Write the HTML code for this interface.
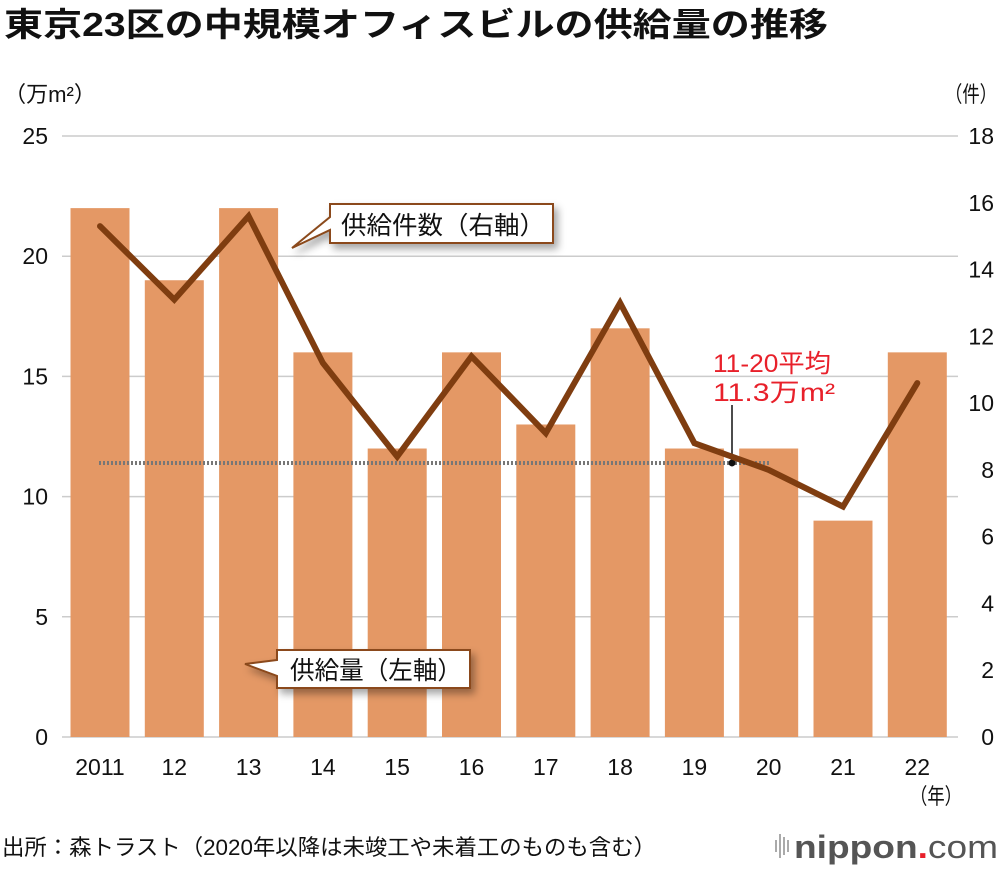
<!DOCTYPE html>
<html><head><meta charset="utf-8">
<style>
html,body{margin:0;padding:0;background:#fff;}
body{width:1000px;height:870px;overflow:hidden;font-family:"Liberation Sans","Noto Sans CJK JP",sans-serif;}
</style></head>
<body>
<svg id="chart" width="1000" height="870" xmlns="http://www.w3.org/2000/svg" font-family="'Liberation Sans','Noto Sans CJK JP',sans-serif">
<defs>
<filter id="sh" x="-20%" y="-30%" width="150%" height="180%"><feDropShadow dx="4" dy="5" stdDeviation="4" flood-color="#000" flood-opacity="0.35"/></filter>
</defs>
<text x="4" y="36" font-size="33" font-weight="bold" fill="#111" textLength="824" lengthAdjust="spacingAndGlyphs">東京23区の中規模オフィスビルの供給量の推移</text>
<text x="4" y="102" font-size="22" fill="#111" textLength="92" lengthAdjust="spacingAndGlyphs">（万m²）</text>
<text x="945" y="102" font-size="22" fill="#111" textLength="52" lengthAdjust="spacingAndGlyphs">（件）</text>
<g id="grid"></g><g id="bars"></g><g id="avg"></g><g id="line"></g><g id="ticks"></g>
<g filter="url(#sh)">
<path d="M330,204 H553 V243 H330 V230 L292,248 L330,217 Z" fill="#fff" stroke="#8b4a1a" stroke-width="2"/>
</g>
<text x="341" y="234" font-size="25" fill="#111" textLength="204" lengthAdjust="spacingAndGlyphs">供給件数（右軸）</text>
<g filter="url(#sh)">
<path d="M277,650 H470 V688 H277 V676 L245,664 L277,660 Z" fill="#fff" stroke="#8b4a1a" stroke-width="2"/>
</g>
<text x="290" y="679" font-size="25" fill="#111" textLength="172" lengthAdjust="spacingAndGlyphs">供給量（左軸）</text>
<text x="713" y="372" font-size="25" fill="#e8202a" textLength="118" lengthAdjust="spacingAndGlyphs">11-20平均</text>
<text x="713" y="401" font-size="25" fill="#e8202a" textLength="122" lengthAdjust="spacingAndGlyphs">11.3万m²</text>
<text x="910" y="804" font-size="22" fill="#111" textLength="52" lengthAdjust="spacingAndGlyphs">（年）</text>
<text x="2" y="855" font-size="22" fill="#111" textLength="654" lengthAdjust="spacingAndGlyphs">出所：森トラスト（2020年以降は未竣工や未着工のものも含む）</text>
<g>
<rect x="775" y="840" width="2" height="12" fill="#aaa"/><rect x="779" y="834" width="2" height="24" fill="#aaa"/><rect x="783" y="837" width="2" height="18" fill="#aaa"/><rect x="787" y="840" width="2" height="12" fill="#aaa"/>
<text x="794" y="858" font-size="32" fill="#555" font-weight="bold" textLength="204" lengthAdjust="spacingAndGlyphs">nippon<tspan fill="#e8202a">.</tspan><tspan font-weight="normal">com</tspan></text>
</g>
</svg>
<script>
const years=["2011","12","13","14","15","16","17","18","19","20","21","22"];
const volume=[22,19,22,16,12,16,13,17,12,12,9,16];
const counts=[15.3,13.1,15.6,11.2,8.4,11.4,9.1,13.0,8.8,8.0,6.9,10.6];
const leftTicks=[0,5,10,15,20,25];
const rightTicks=[0,2,4,6,8,10,12,14,16,18];
const average=11.4;
const NS="http://www.w3.org/2000/svg";
const x0=100,step=74.3,bw=59,yb=737,yt=136;
const xc=i=>x0+i*step;
const yL=v=>yb-(v/25)*(yb-yt);
const yR=v=>yb-(v/18)*(yb-yt);
function mk(tag,attrs,parent){const e=document.createElementNS(NS,tag);for(const k in attrs)e.setAttribute(k,attrs[k]);document.getElementById(parent).appendChild(e);return e;}
leftTicks.forEach(t=>{
 const l=mk('line',{x1:62,x2:958,y1:yL(t),y2:yL(t),stroke:'#ccc','stroke-width':1.5},'grid');
 
 
 const tx=mk('text',{x:48,y:yL(t)+8,'font-size':23,'text-anchor':'end',fill:'#111'},'ticks');
 tx.textContent=t;
 
 
});
rightTicks.forEach(t=>{
 const tx=mk('text',{x:994,y:yR(t)+8,'font-size':23,'text-anchor':'end',fill:'#111'},'ticks');
 tx.textContent=t;
 
 
});
years.forEach((y,i)=>{
 const r=mk('rect',{x:xc(i)-bw/2,y:yL(volume[i]),width:bw,height:yb-yL(volume[i]),fill:'#e49865'},'bars');
 
 
 const tx=mk('text',{x:xc(i),y:775,'font-size':23,'text-anchor':'middle',fill:'#111'},'ticks');
 tx.textContent=y;
 
 
});
const av=mk('line',{x1:xc(0)-1,x2:771,y1:yL(average),y2:yL(average),stroke:'#777','stroke-width':4,'stroke-dasharray':'2 2'},'avg');


const ld=mk('line',{x1:732,x2:732,y1:405,y2:yL(average),stroke:'#111','stroke-width':1.5},'avg');


const dot=mk('circle',{cx:732,cy:yL(average),r:3.5,fill:'#111'},'avg');


const pts=counts.map((c,i)=>xc(i)+','+yR(c)).join(' ');
const pl=mk('polyline',{points:pts,fill:'none',stroke:'#7f3d10','stroke-width':6,'stroke-linejoin':'miter','stroke-linecap':'round'},'line');


</script>
</body></html>
